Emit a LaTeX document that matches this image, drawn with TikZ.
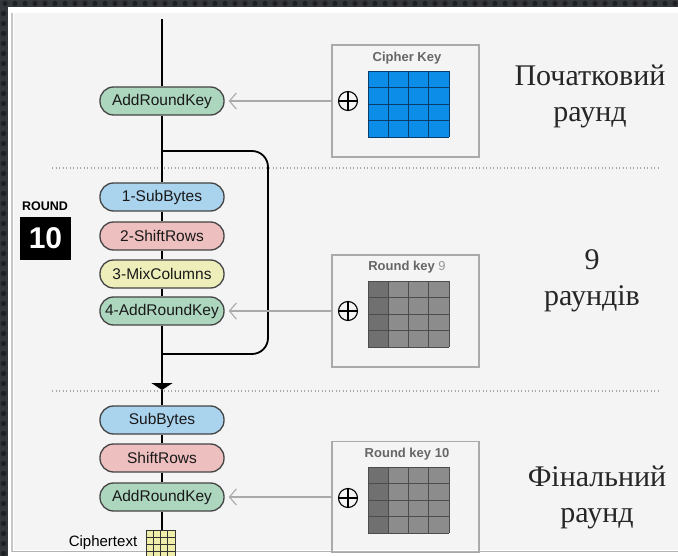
\documentclass[tikz,border=0pt]{standalone}
\usepackage{fontspec}
\setmainfont{Liberation Sans}
\newfontfamily\serifua{Liberation Serif}
\usetikzlibrary{arrows.meta}
\definecolor{bgdark}{HTML}{34373B}
\definecolor{dotc}{HTML}{1E2023}
\definecolor{panel}{HTML}{F4F4F4}
\definecolor{pblue}{HTML}{AAD3EE}
\definecolor{ppink}{HTML}{EDBFBF}
\definecolor{pyellow}{HTML}{EEEEBB}
\definecolor{pgreen}{HTML}{ADD6BF}
\definecolor{pborder}{HTML}{444444}
\definecolor{kblue}{HTML}{0B8DE8}
\definecolor{kblueline}{HTML}{0A3C6E}
\definecolor{kgray}{HTML}{8C8C8C}
\definecolor{kgraydark}{HTML}{707070}
\definecolor{boxgray}{HTML}{AAAAAA}
\definecolor{titlegray}{HTML}{666666}
\definecolor{ctyellow}{HTML}{EEEEAA}
\tikzset{
  pill/.style={draw=pborder, line width=1.3pt, rounded corners=13.5pt,
    minimum width=124pt, minimum height=28pt, inner sep=0pt, text=black!90,
    font=\fontsize{15.5}{17}\selectfont},
  keybox/.style={draw=boxgray, line width=1.3pt, minimum width=147pt,
    minimum height=112pt, inner sep=0pt},
  keytitle/.style={text=titlegray, font=\fontsize{13}{15}\selectfont\bfseries, inner sep=0pt},
  keyarrow/.style={draw=boxgray, line width=1.1pt,
    -{Straight Barb[length=7pt,width=16pt,line width=1.1pt]}, shorten >=4pt},
  mainline/.style={line width=1.8pt, black},
  sidetext/.style={font=\serifua\fontsize{30}{36}\selectfont, align=center, text=black!85},
  dotline/.style={draw=gray!70, line width=1.2pt, dash pattern=on 1pt off 2.5pt},
  oplus/.style={draw=black, line width=1.1pt, circle, minimum size=19pt, inner sep=0pt}
}
\newcommand{\keygrid}[4]{% x0, y0, fill, firstcol fill
  \fill[#3] (#1,#2) rectangle ++(81,66);
  \fill[#4] (#1,#2) rectangle ++(20.25,66);
}
\begin{document}
\begin{tikzpicture}[x=1pt,y=-1pt]
\useasboundingbox (0,0) rectangle (678,556);
% background
\fill[bgdark] (0,0) rectangle (678,556);
\foreach \i in {0,...,67} \fill[dotc] (\i*10+5,3.5) circle (2.6);
\foreach \j in {1,...,55} \fill[dotc] (3.5,\j*10+3.5) circle (2.6);
\fill[white] (8,7) rectangle (678,556);
\fill[panel] (14,13) rectangle (678,550);
\draw[gray!45, line width=2pt] (12,13) -- (12,552);
\draw[gray!60, line width=1.5pt] (12,551.5) -- (678,551.5);

% dotted separators
\coordinate (d1a) at (52,168); \coordinate (d1b) at (660,168);
\coordinate (d2a) at (52,391); \coordinate (d2b) at (660,391);
\draw[dotline] (d1a) -- (d1b);
\draw[dotline] (d2a) -- (d2b);

% pills
\node[pill, fill=pgreen] (ark0) at (162,101) {AddRoundKey};
\node[pill, fill=pblue] (sb1) at (162,197) {1-SubBytes};
\node[pill, fill=ppink] (sr1) at (162,236) {2-ShiftRows};
\node[pill, fill=pyellow] (mc1) at (162,274) {3-MixColumns};
\node[pill, fill=pgreen] (ark1) at (162,311) {4-AddRoundKey};
\node[pill, fill=pblue] (sb2) at (162,420) {SubBytes};
\node[pill, fill=ppink] (sr2) at (162,458) {ShiftRows};
\node[pill, fill=pgreen] (ark2) at (162,497) {AddRoundKey};

% main flow
\coordinate (top) at (162,19);
\coordinate (split) at (162,151);
\coordinate (join) at (162,354);
\coordinate (tip) at (162,390);
\coordinate (ctop) at (162,530);
\draw[mainline] (top) -- (ark0.north);
\draw[mainline] (ark0.south) -- (sb1.north);
\draw[mainline] (sb1.south) -- (sr1.north);
\draw[mainline] (sr1.south) -- (mc1.north);
\draw[mainline] (mc1.south) -- (ark1.north);
\draw[mainline, rounded corners=16pt] (split) -- (268,151) -- (268,354) -- (join);
\draw[mainline, -{Triangle[width=21pt,length=7pt]}] (ark1.south) -- (tip);
\draw[mainline] (tip) -- (sb2.north);
\draw[mainline] (sb2.south) -- (sr2.north);
\draw[mainline] (sr2.south) -- (ark2.north);
\draw[mainline] (ark2.south) -- (ctop);

% ciphertext
\fill[ctyellow] (146,530) rectangle (175,558);
\foreach \k in {0,...,4} {
  \draw[black!80, line width=1pt] (146+\k*7.25,530) -- (146+\k*7.25,556);
  \draw[black!80, line width=1pt] (146,530+\k*7) -- (175,530+\k*7);
}
\node[font=\fontsize{15}{17}\selectfont, inner sep=0pt] (ctext) at (103,543) {Ciphertext};

% ROUND 10
\node[font=\fontsize{12.5}{14}\selectfont\bfseries, inner sep=0pt] (roundlbl) at (45,206) {ROUND};
\node[fill=black, text=white, minimum width=51pt, minimum height=43pt, inner sep=0pt,
  font=\fontsize{30}{32}\selectfont\bfseries] (roundnum) at (45.5,238.5) {10};

% key boxes
\node[keybox] (k0) at (405.5,101) {};
\node[keybox] (k1) at (405.5,311) {};
\node[keybox, minimum height=111pt] (k2) at (405.5,497) {};

\node[keytitle] (t0) at (407,58) {Cipher Key};
\node[keytitle] (t1) at (407,267) {Round key \textcolor{gray!80}{\mdseries 9}};
\node[keytitle] (t2) at (407,454) {Round key 10};

% grids
\fill[kblue] (368,71) rectangle (449,137);
\foreach \k in {0,...,4} {
  \draw[kblueline, line width=0.8pt] (368+\k*20.25,71) -- (368+\k*20.25,137);
  \draw[kblueline, line width=0.8pt] (368,71+\k*16.5) -- (449,71+\k*16.5);
}
\keygrid{368}{281}{kgray}{kgraydark}
\foreach \k in {0,...,4} {
  \draw[black!70, line width=0.7pt] (368+\k*20.25,281) -- (368+\k*20.25,347);
  \draw[black!70, line width=0.7pt] (368,281+\k*16.5) -- (449,281+\k*16.5);
}
\keygrid{368}{467}{kgray}{kgraydark}
\foreach \k in {0,...,4} {
  \draw[black!70, line width=0.7pt] (368+\k*20.25,467) -- (368+\k*20.25,533);
  \draw[black!70, line width=0.7pt] (368,467+\k*16.5) -- (449,467+\k*16.5);
}

% oplus
\foreach \n/\yy in {o0/101, o1/311, o2/498} {
  \node[oplus] (\n) at (348,\yy) {};
  \draw[line width=1.1pt] (\n.north) -- (\n.south) (\n.west) -- (\n.east);
}

% key arrows
\draw[keyarrow] (k0.west) -- (ark0.east);
\draw[keyarrow] (k1.west) -- (ark1.east);
\draw[keyarrow] (k2.west) -- (ark2.east);

% side texts
\node[sidetext] (s0) at (590,96) {Початковий\\раунд};
\node[sidetext] (s1) at (592,281) {9\\раундів};
\node[sidetext] (s2) at (597,497) {Фінальний\\раунд};
\end{tikzpicture}
\end{document}
